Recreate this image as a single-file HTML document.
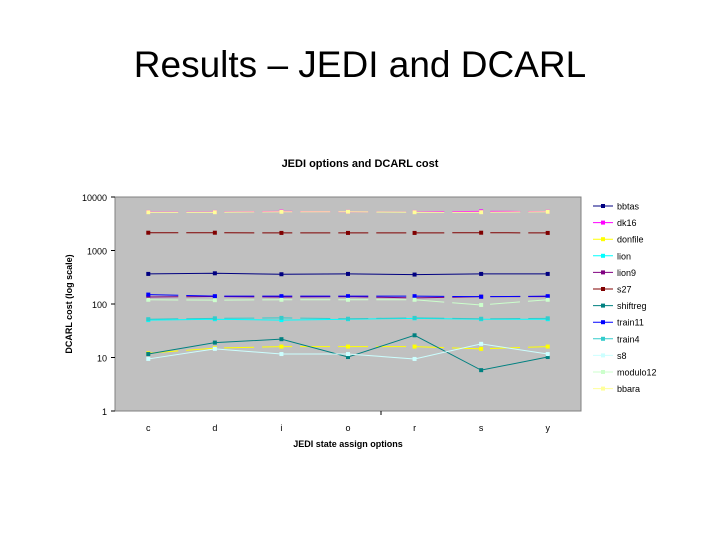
<!DOCTYPE html>
<html><head><meta charset="utf-8"><style>
body{margin:0;background:#fff;width:720px;height:540px;overflow:hidden;font-family:"Liberation Sans",sans-serif}
</style></head><body>
<div style="position:absolute;left:0;width:720px;top:44px;text-align:center;font-size:37px;color:#000">Results – JEDI and DCARL</div>
<svg id="c" width="720" height="540" style="position:absolute;left:0;top:0" font-family="Liberation Sans, sans-serif"></svg>
<script>
const categories=["c","d","i","o","r","s","y"];
const seriesNames=["bbtas","dk16","donfile","lion","lion9","s27","shiftreg","train11","train4","s8","modulo12","bbara"];
const colors=["#000080","#ff00ff","#ffff00","#00ffff","#800080","#800000","#008080","#0000ff","#33cccc","#ccffff","#ccffcc","#ffff99"];
const bbtas=[365,375,360,365,355,365,365];
const dk16=[5250,5250,5400,5300,5250,5400,5350];
const donfile=[12,15,16,16,16,14.5,16];
const lion=[50,52,50,52,54,52,52];
const lion9=[135,138,135,137,130,137,137];
const s27=[2150,2150,2130,2130,2130,2150,2130];
const shiftreg=[11.6,19,22,10.2,26,5.8,10.2];
const train11=[150,140,140,140,140,137,140];
const train4=[52,54,55,53,55,53,54];
const s8=[9.4,14.5,11.6,11.6,9.4,18,11.6];
const modulo12=[120,118,120,120,120,96,120];
const bbara=[5200,5200,5300,5300,5200,5200,5300];
const series=[bbtas,dk16,donfile,lion,lion9,s27,shiftreg,train11,train4,s8,modulo12,bbara];
const yTicks=[1,10,100,1000,10000];
const yTickLabels=["1","10","100","1000","10000"];
const svg=document.getElementById('c');const NS="http://www.w3.org/2000/svg";
function mk(t,a,txt){const e=document.createElementNS(NS,t);for(const k in a)e.setAttribute(k,a[k]);if(txt!==undefined)e.textContent=txt;svg.appendChild(e);return e;}
const L=115,R=581,T=197,B=411;
const x=i=>L+(R-L)*(i+0.5)/categories.length;
const y=v=>B-(B-T)*Math.log10(v)/4;
let e=mk('rect',{x:L,y:T,width:R-L,height:B-T,fill:'#c0c0c0',stroke:'#808080','stroke-width':1});

e=mk('text',{x:360,y:167,'text-anchor':'middle','font-size':11,'font-weight':'bold'},'JEDI options and DCARL cost');

yTicks.forEach((t,i)=>{e=mk('text',{x:107,y:y(t)+4,'text-anchor':'end','font-size':9},yTickLabels[i]);

mk('line',{x1:111,x2:L,y1:y(t),y2:y(t),stroke:'#000'});});
categories.forEach((c,i)=>{e=mk('text',{x:x(i),y:431,'text-anchor':'middle','font-size':9},c);
});
mk('line',{x1:381,x2:381,y1:B,y2:B+4,stroke:'#000'});
e=mk('text',{x:348,y:447,'text-anchor':'middle','font-size':9,'font-weight':'bold'},'JEDI state assign options');

e=mk('text',{x:0,y:0,'text-anchor':'middle','font-size':9,'font-weight':'bold',transform:'translate(72,304) rotate(-90)'},'DCARL cost (log scale)');

series.forEach((s,k)=>{
 const d=s.map((v,i)=>(i?'L':'M')+x(i)+' '+y(v)).join(' ');
 e=mk('path',{d:d,fill:'none',stroke:colors[k],'stroke-width':1,'stroke-dasharray':k%3==0?'':'30 8'});
 
 s.forEach((v,i)=>{const m=mk('rect',{x:x(i)-2,y:y(v)-2,width:4,height:4,fill:colors[k]});
 });
 const ly=206+k*16.6;
 mk('line',{x1:593,x2:613,y1:ly,y2:ly,stroke:colors[k],'stroke-width':1});
 mk('rect',{x:601,y:ly-2,width:4,height:4,fill:colors[k]});
 e=mk('text',{x:617,y:ly+3.5,'font-size':9},seriesNames[k]);
 
});
</script>
</body></html>
